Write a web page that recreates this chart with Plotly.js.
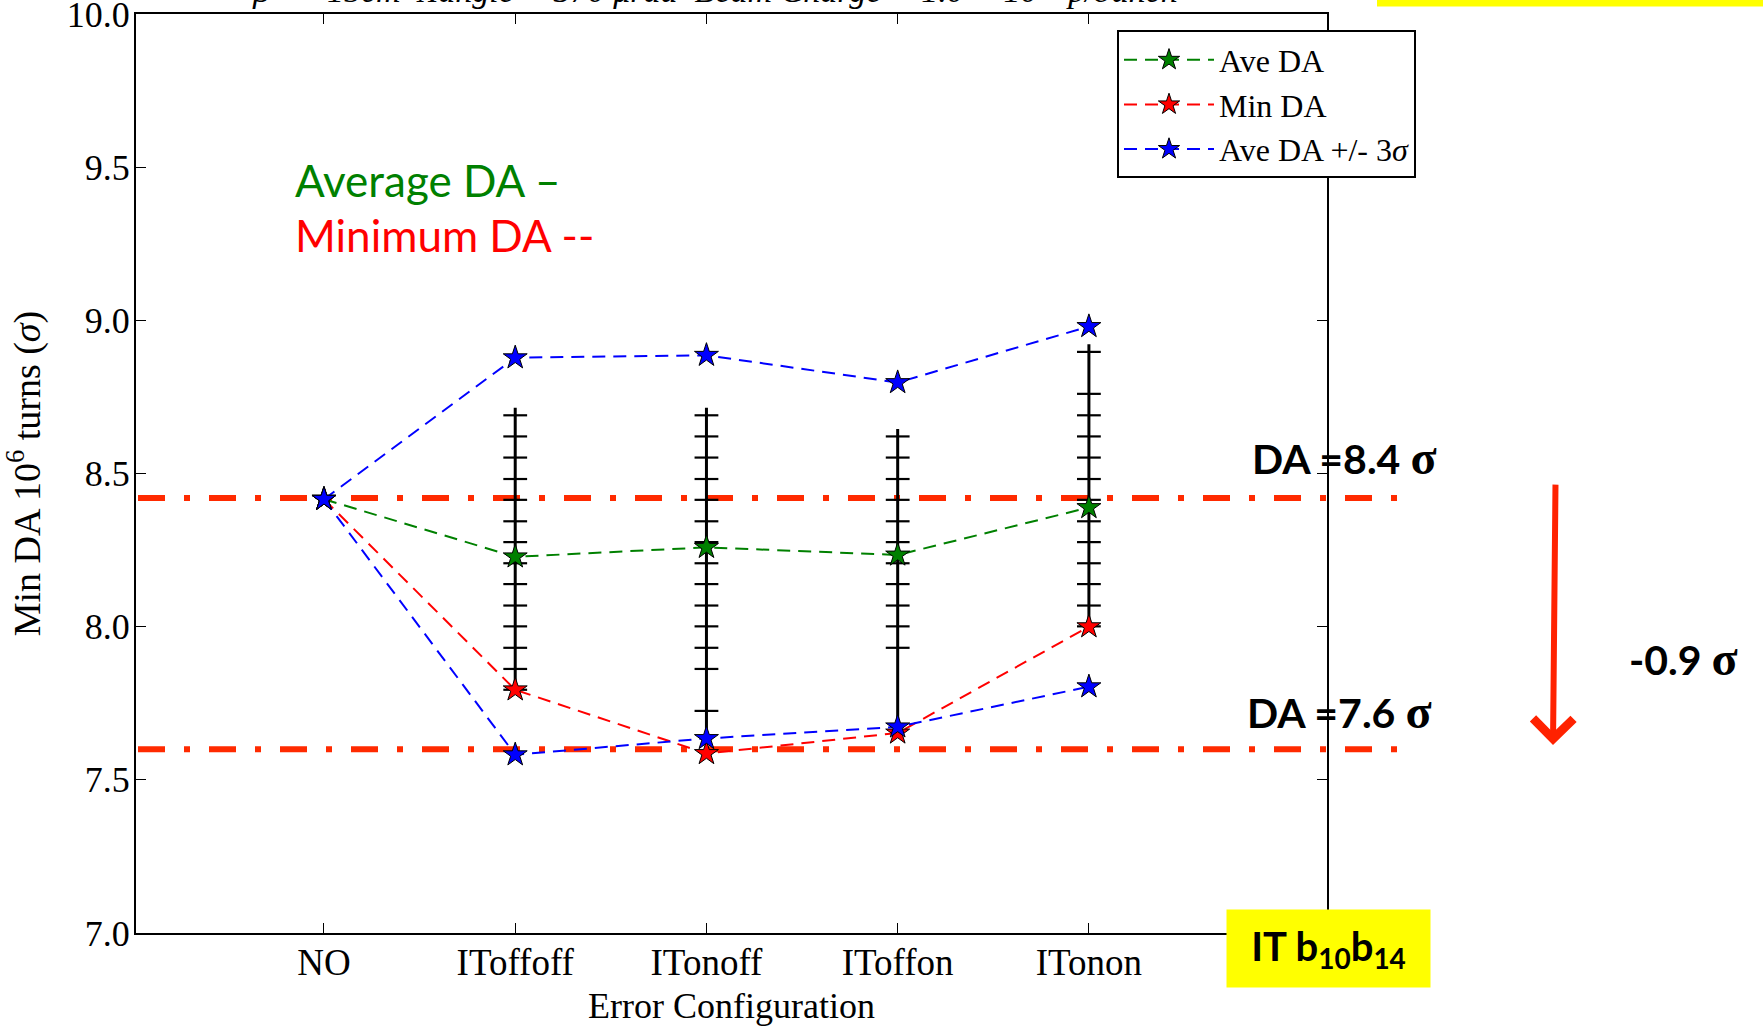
<!DOCTYPE html>
<html>
<head>
<meta charset="utf-8">
<script src="https://cdn.plot.ly/plotly-3.0.1.min.js"></script>
<style>
  html, body { margin: 0; padding: 0; background: #fff; overflow: hidden; }
  #chart { width: 1763px; height: 1026px; }
</style>
</head>
<body>
<div id="chart"></div>
<script>
// ---------------- data ----------------
const categories = ['NO', 'IToffoff', 'ITonoff', 'IToffon', 'ITonon'];
const aveDA      = [8.416, 8.228, 8.259, 8.234, 8.389];
const minDA      = [8.416, 7.794, 7.586, 7.653, 8.000];
const aveUpper   = [8.416, 8.878, 8.886, 8.797, 8.980];
const aveLower   = [8.416, 7.582, 7.635, 7.673, 7.804];

// per-seed spread (black bars) for the error configurations
const seedConfigs = ['IToffoff', 'ITonoff', 'IToffon', 'ITonon'];
const seedMax = [8.715, 8.715, 8.645, 8.922];
const seedMin = [7.794, 7.586, 7.653, 8.000];
const seedIToffoff = [8.690, 8.621, 8.552, 8.482, 8.414, 8.344, 8.276, 8.207, 8.139, 8.069, 8.001, 7.931, 7.862, 7.794];
const seedITonoff  = [8.690, 8.621, 8.552, 8.482, 8.414, 8.344, 8.276, 8.207, 8.139, 8.069, 8.001, 7.931, 7.862, 7.725];
const seedIToffon  = [8.621, 8.552, 8.482, 8.414, 8.344, 8.276, 8.207, 8.139, 8.069, 8.001, 7.931];
const seedITonon   = [8.897, 8.760, 8.690, 8.621, 8.552, 8.482, 8.414, 8.344, 8.276, 8.207, 8.139, 8.069, 8.001];
const seedTicks = [seedIToffoff, seedITonoff, seedIToffon, seedITonon];

// reference DA levels
const refLevels = [8.42, 7.60];
const refLabels = ['DA =8.4 ', 'DA =7.6 '];
const dropLabel = '-0.9 ';

const yTicks = [7.0, 7.5, 8.0, 8.5, 9.0, 9.5, 10.0];

// ---------------- layout helpers ----------------
const W = 1763, H = 1026;
const L = 136, R = 1327, T = 13.5, B = 933;
const px = x => (x - L) / (R - L);
const py = y => (B - y) / (B - T);

const SERIF = 'Liberation Serif, Times New Roman, serif';
const SANS = 'Lato, Open Sans, sans-serif';

const traces = [];

// black bars
seedConfigs.forEach((c, i) => {
  traces.push({
    x: [c, c], y: [seedMin[i], seedMax[i]],
    mode: 'lines', line: {color: '#000', width: 3},
    showlegend: false, hoverinfo: 'skip'
  });
  traces.push({
    x: seedTicks[i].map(() => c), y: seedTicks[i],
    mode: 'markers',
    marker: {symbol: 'line-ew', size: 17, line: {color: '#000', width: 2.2}},
    showlegend: false, hoverinfo: 'skip'
  });
});

const dash = '13px,8px';
function series(y, color, name, show) {
  return {
    x: categories, y: y, name: name, showlegend: show,
    mode: 'lines+markers',
    line: {color: color, width: 2, dash: dash},
    marker: {symbol: 'star', size: 18, color: color, line: {color: '#000', width: 1}}
  };
}
traces.push(series(aveDA, '#008000', 'Ave DA', true));
traces.push(series(minDA, '#ff0000', 'Min DA', true));
traces.push(series(aveUpper, '#0000ff', 'Ave DA +/- 3<i>σ</i>', true));
traces.push(series(aveLower, '#0000ff', 'Ave DA lower', false));

const refEnds = [1414, 1403];
const shapes = refLevels.map((v, i) => ({
  type: 'line', xref: 'paper', yref: 'y',
  x0: px(138), x1: px(refEnds[i]), y0: v, y1: v,
  line: {color: '#ff2a00', width: 6, dash: '27px,19px,6px,19px'},
  layer: 'below'
}));
// partially visible yellow box at top right
shapes.push({
  type: 'rect', xref: 'paper', yref: 'paper',
  x0: px(1377), x1: px(1770), y0: py(6), y1: py(-20),
  fillcolor: '#ffff00', line: {width: 0}, layer: 'above'
});

const sig = '<span style="font-family:Liberation Serif;font-size:48px">σ</span>';
const annotations = [
  {xref: 'paper', yref: 'paper', x: px(715), y: py(10), xanchor: 'center', yanchor: 'bottom',
   text: '<i>β* = 15cm  Xangle = 370 μrad  Beam Charge = 1.0 × 10<sup>11</sup> p/bunch</i>',
   showarrow: false, font: {family: SERIF, size: 34, color: '#000'}},
  {xref: 'paper', yref: 'paper', x: px(293), y: py(180), xanchor: 'left', yanchor: 'middle',
   text: 'Average DA –', showarrow: false, font: {family: SANS, size: 44, color: '#008000'}},
  {xref: 'paper', yref: 'paper', x: px(293), y: py(235), xanchor: 'left', yanchor: 'middle',
   text: 'Minimum DA --', showarrow: false, font: {family: SANS, size: 44, color: '#ff0000'}},
  {xref: 'paper', yref: 'paper', x: px(1250), y: py(457), xanchor: 'left', yanchor: 'middle',
   text: '<b>' + refLabels[0] + sig + '</b>', showarrow: false, font: {family: SANS, size: 41, color: '#000'}},
  {xref: 'paper', yref: 'paper', x: px(1245), y: py(711), xanchor: 'left', yanchor: 'middle',
   text: '<b>' + refLabels[1] + sig + '</b>', showarrow: false, font: {family: SANS, size: 41, color: '#000'}},
  {xref: 'paper', yref: 'paper', x: px(1627), y: py(658), xanchor: 'left', yanchor: 'middle',
   text: '<b>' + dropLabel + sig + '</b>', showarrow: false, font: {family: SANS, size: 41, color: '#000'}},
  {xref: 'paper', yref: 'paper', x: px(1553), y: py(745), text: '',
   showarrow: true, arrowhead: 4, arrowsize: 1.3, arrowwidth: 6, arrowcolor: '#ff2200',
   ax: 2.5, ay: -262, standoff: 0},
  {xref: 'paper', yref: 'paper', x: px(1328), y: py(949), xanchor: 'center', yanchor: 'middle',
   text: '<b>IT b<sub>10</sub>b<sub>14</sub></b>', showarrow: false,
   bgcolor: '#ffff00', width: 201, height: 75, borderpad: 1,
   font: {family: SANS, size: 40, color: '#000'}}
];

const layout = {
  width: W, height: H,
  margin: {l: L, r: W - R, t: T, b: H - B, pad: 0},
  paper_bgcolor: '#fff', plot_bgcolor: '#fff',
  font: {family: SERIF, color: '#000'},
  showlegend: true,
  legend: {
    x: px(1117), y: py(30), xanchor: 'left', yanchor: 'top',
    bgcolor: '#fff', bordercolor: '#000', borderwidth: 2,
    font: {family: SERIF, size: 32, color: '#000'},
    itemwidth: 90, tracegroupgap: 0
  },
  xaxis: {
    type: 'category', categoryorder: 'array', categoryarray: categories,
    range: [-0.983, 5.245],
    showgrid: false, zeroline: false,
    showline: true, linecolor: '#000', linewidth: 2, mirror: 'ticks',
    ticks: 'inside', ticklen: 10, tickwidth: 1, tickcolor: '#000',
    ticklabelstandoff: -4, ticklabeloverflow: 'allow',
    tickfont: {family: SERIF, size: 37, color: '#000'},
    title: {text: 'Error Configuration', font: {family: SERIF, size: 36, color: '#000'}, standoff: 18}
  },
  yaxis: {
    range: [7.0, 10.0], tickvals: yTicks, tickformat: '.1f',
    showgrid: false, zeroline: false,
    showline: true, linecolor: '#000', linewidth: 2, mirror: 'ticks',
    ticks: 'inside', ticklen: 10, tickwidth: 1, tickcolor: '#000',
    ticklabelstandoff: -3, ticklabeloverflow: 'allow',
    tickfont: {family: SERIF, size: 36, color: '#000'},
    title: {text: 'Min DA 10<sup>6</sup> turns (<i>σ</i>)', font: {family: SERIF, size: 38, color: '#000'}, standoff: 19}
  },
  shapes: shapes,
  annotations: annotations
};

Plotly.newPlot('chart', traces, layout, {displayModeBar: false, staticPlot: true});
</script>
</body>
</html>
